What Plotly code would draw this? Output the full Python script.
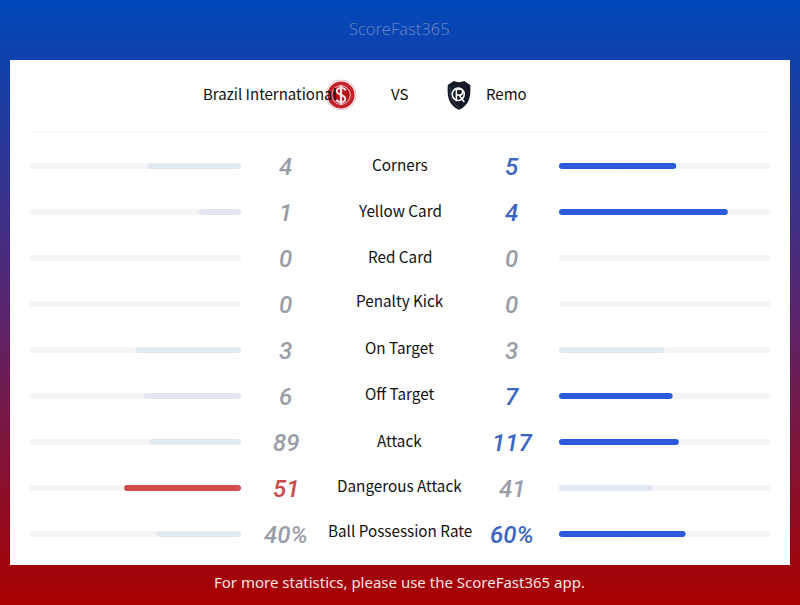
import base64
import plotly.graph_objects as go

categories = ["Corners", "Yellow Card", "Red Card", "Penalty Kick", "On Target",
              "Off Target", "Attack", "Dangerous Attack", "Ball Possession Rate"]
home_values = [4, 1, 0, 0, 3, 6, 89, 51, 40]
away_values = [5, 4, 0, 0, 3, 7, 117, 41, 60]
suffixes = ["", "", "", "", "", "", "", "", "%"]
home_team = "Brazil International"
away_team = "Remo"
title_text = "ScoreFast365"
footer_text = "For more statistics, please use the ScoreFast365 app."

label_shift = [2, 2, 2, 4, 3, 3, 2, 3, 4]
FONT = "Noto Sans CJK SC, Noto Sans, sans-serif"
NUMFONT = "Roboto, Noto Sans, sans-serif"
GREY_BAR, TRACK = "#E3E8F0", "#F4F5F7"
BLUE_BAR, RED_BAR = "#2B5BD9", "#D24C4F"
GREY_TXT, BLUE_TXT, RED_TXT = "#9A9DA8", "#3B66C2", "#CB4A4D"

W, H = 800, 605


def svg_uri(body, w=160, h=160, vb="0 0 40 40", extra=""):
    svg = (f'<svg xmlns="http://www.w3.org/2000/svg" viewBox="{vb}" width="{w}" height="{h}" '
           f'preserveAspectRatio="none">{extra}{body}</svg>')
    return "data:image/svg+xml;base64," + base64.b64encode(svg.encode()).decode()


gradient = svg_uri(
    '<rect width="800" height="605" fill="url(#g)"/>', W, H, f"0 0 {W} {H}",
    '<defs><linearGradient id="g" x1="0" y1="0" x2="0" y2="1">'
    '<stop offset="0" stop-color="#0048BB"/><stop offset="0.5" stop-color="#56266F"/>'
    '<stop offset="1" stop-color="#AA0000"/></linearGradient></defs>')
home_logo = svg_uri(
    '<circle cx="20" cy="20" r="19.4" fill="#fff" stroke="#E6A9AC" stroke-width="1"/>'
    '<circle cx="20" cy="20" r="17.5" fill="#C3222B"/>'
    '<circle cx="20" cy="20" r="12" fill="#B5121C" stroke="#F3D9D9" stroke-width="1.2"/>'
    '<rect x="18.6" y="7.5" width="2.8" height="25" fill="#F6E3E3"/>'
    '<path d="M26 14 C24 9.5 14 10 14.5 15.5 C15 20 25.5 19.5 25.5 25 C25.5 30.5 15.5 30 14 26" fill="none" stroke="#F6E3E3" stroke-width="2.6"/>'
)
away_logo = svg_uri(
    '<path d="M13 2 Q20 5 27 2 L35 7 C36 22 34 33 20 39 C6 33 4 22 5 7 Z" fill="#141B26"/>'
    '<path d="M8 10 C8 22 10 30 20 36" fill="none" stroke="#4A5563" stroke-width="1"/>'
    '<circle cx="19" cy="19" r="8" fill="none" stroke="#fff" stroke-width="2"/>'
    '<path d="M16.5 11 V28 M16.5 12.5 H22 C26 12.5 26 20 21 20 H16.5 M20 20 L27 29" fill="none" stroke="#fff" stroke-width="2"/>'
)

home_share = [h / (h + a) if h + a else 0 for h, a in zip(home_values, away_values)]
away_share = [a / (h + a) if h + a else 0 for h, a in zip(home_values, away_values)]
home_colors = [RED_BAR if h > a else GREY_BAR for h, a in zip(home_values, away_values)]
away_colors = [BLUE_BAR if a > h else GREY_BAR for h, a in zip(home_values, away_values)]
one = [1] * len(categories)
bar_w = 6 / 46

fig = go.Figure()
fig.add_trace(go.Scatter(x=[0, W], y=[0, H], mode="markers", marker=dict(opacity=0), hoverinfo="skip",
                         showlegend=False, xaxis="x", yaxis="y"))


def pill(values, colors, xa, hover):
    """A bar rounded at both ends: two overlapping halves, each rounded at its own tip."""
    for base_f, len_f in ((0.45, 0.55), (0.55, -0.55)):
        fig.add_trace(go.Bar(
            y=categories, x=[v * len_f for v in values], base=[v * base_f for v in values], orientation="h",
            width=bar_w, marker=dict(color=colors, line_width=0), xaxis=xa, yaxis="y2", showlegend=False,
            hoverinfo="y" if hover else "skip"))


for xa, share, colors in (("x2", home_share, home_colors), ("x3", away_share, away_colors)):
    pill(one, TRACK, xa, False)
    pill(share, colors, xa, True)


def px_x(px):
    return px / W


def px_y(px):
    return 1 - px / H


ann = []


def add(text, x, y, size, color, anchor="center", font=FONT, **kw):
    ann.append(dict(text=text, x=x, y=y, xref="x", yref="y", showarrow=False, xanchor=anchor, yanchor="middle",
                    font=dict(family=font, size=size, color=color, **kw)))


add(title_text, 399, 28.5, 16.5, "#5F80C4", font="Noto Sans, sans-serif", weight=300)
add(footer_text, 399, 582, 15, "#F6E4E4", font="Noto Sans, sans-serif")
add(home_team, 201, 93, 15, "#111111", anchor="left")
add("VS", 399.5, 93, 15, "#111111")
add(away_team, 484, 93, 15, "#111111", anchor="left")

for i, cat in enumerate(categories):
    h, a = home_values[i], away_values[i]
    ann.append(dict(text=cat, x=399.5, y=cat, xref="x", yref="y2", yshift=label_shift[i], showarrow=False,
                    font=dict(family=FONT, size=15.25, color="#111111")))
    hc = RED_TXT if h > a else GREY_TXT
    ac = BLUE_TXT if a > h else GREY_TXT
    for val, xp, col in ((h, 285.5, hc), (a, 511.5, ac)):
        ann.append(dict(text=f"{val}{suffixes[i]}", x=xp, y=cat, xref="x", yref="y2", yshift=-1, showarrow=False,
                        font=dict(family=NUMFONT, size=24, color=col, style="italic", weight=500)))

shapes = [
    dict(type="rect", xref="x", yref="y", x0=10, x1=790, y0=60, y1=565, fillcolor="#FFFFFF", line_width=0, layer="below"),
    dict(type="line", xref="x", yref="y", x0=30, x1=770, y0=132, y1=132, line=dict(color="#F3F4F6", width=1), layer="below"),
]
images = [
    dict(source=gradient, xref="paper", yref="paper", x=0, y=1, sizex=1, sizey=1, xanchor="left", yanchor="top",
         sizing="stretch", layer="below"),
    dict(source=home_logo, xref="x", yref="y", x=325.5, y=79.5, sizex=31, sizey=31, xanchor="left", yanchor="top", layer="below"),
    dict(source=away_logo, xref="x", yref="y", x=444, y=79.5, sizex=30, sizey=31, xanchor="left", yanchor="top", layer="below"),
]
hidden = dict(visible=False, showgrid=False, zeroline=False, fixedrange=True)
fig.update_layout(
    width=W, height=H, margin=dict(l=0, r=0, t=0, b=0), paper_bgcolor="#FFFFFF", plot_bgcolor="rgba(0,0,0,0)",
    barmode="overlay", barcornerradius=3, showlegend=False,
    annotations=ann, shapes=shapes, images=images,
    xaxis=dict(range=[0, W], domain=[0, 1], **hidden),
    yaxis=dict(range=[H, 0], domain=[0, 1], **hidden),
    xaxis2=dict(range=[1, 0], domain=[px_x(30), px_x(241)], anchor="y2", **hidden),
    xaxis3=dict(range=[0, 1], domain=[px_x(559), px_x(770)], anchor="y2", **hidden),
    yaxis2=dict(type="category", categoryorder="array", categoryarray=categories, autorange="reversed",
                domain=[px_y(143 + 46 * 9), px_y(143)], anchor="x2", **hidden),
)
fig.write_html("out.html", config={"displayModeBar": False},
               post_script="document.body.style.margin='0';document.body.style.overflow='hidden';")
